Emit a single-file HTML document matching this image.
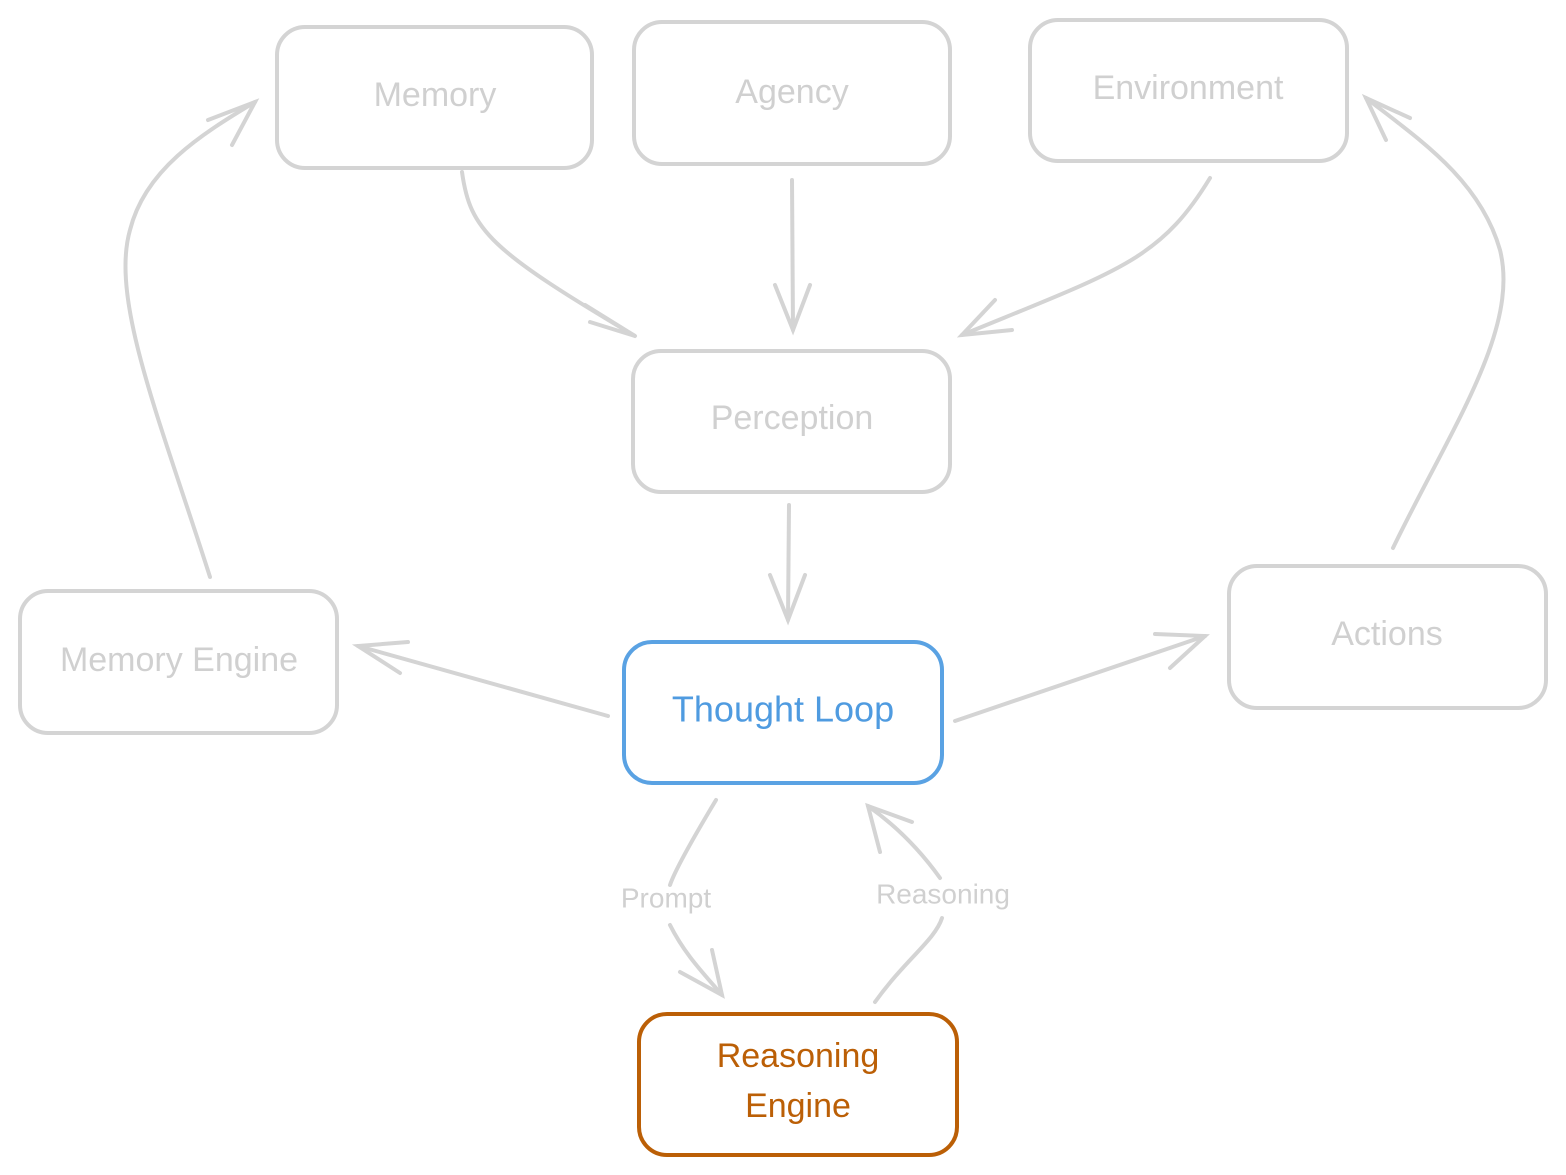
<!DOCTYPE html>
<html><head><meta charset="utf-8"><style>
html,body{margin:0;padding:0;background:#fff;}
svg{display:block;}
text{font-family:"Liberation Sans",sans-serif;text-anchor:middle;dominant-baseline:middle;}
</style></head><body>
<svg width="1566" height="1175" viewBox="0 0 1566 1175" xmlns="http://www.w3.org/2000/svg">
<g fill="none" stroke="#d4d4d4" stroke-width="4" stroke-linecap="round">
<rect x="277" y="27" width="315" height="141" rx="28"/>
<rect x="634" y="22" width="316" height="142" rx="28"/>
<rect x="1030" y="20" width="317" height="141" rx="28"/>
<rect x="633" y="351" width="317" height="141" rx="28"/>
<rect x="20" y="591" width="317" height="142" rx="28"/>
<rect x="1229" y="566" width="317" height="142" rx="28"/>
<!-- arrows -->
<path d="M462 172 C470 230 490 250 635 336"/>
<path d="M585 305 L635 336 L590 322"/>
<path d="M792 180 L793 330"/>
<path d="M775 285 L793 330 L810 285"/>
<path d="M1210 178 C1160 260 1120 270 962 335"/>
<path d="M995 300 L962 335 L1012 330"/>
<path d="M789 505 L788 620"/>
<path d="M770 575 L788 620 L805 575"/>
<path d="M608 716 L358 646"/>
<path d="M400 673 L358 646 L408 642"/>
<path d="M955 721 L1205 636"/>
<path d="M1155 634 L1205 636 L1170 668"/>
<path d="M210 577 C160 420 110 300 130 230 C145 170 200 135 255 102"/>
<path d="M208 120 L255 102 L232 145"/>
<path d="M1393 548 C1450 430 1520 330 1500 250 C1480 180 1420 140 1366 98"/>
<path d="M1410 118 L1366 98 L1386 140"/>
<path d="M716 800 C695 835 675 870 670 885"/>
<path d="M670 925 C685 955 705 975 722 995"/>
<path d="M680 972 L722 995 L712 950"/>
<path d="M875 1002 C905 960 935 940 942 918"/>
<path d="M940 878 C920 850 895 825 868 806"/>
<path d="M880 852 L868 806 L912 822"/>
</g>
<rect x="624" y="642" width="318" height="141" rx="28" fill="none" stroke="#5aa2e3" stroke-width="4"/>
<rect x="639" y="1014" width="318" height="141" rx="28" fill="none" stroke="#bb5f06" stroke-width="4"/>
<g fill="#d0d0d0" font-size="34">
<text x="435" y="97">Memory</text>
<text x="792" y="94">Agency</text>
<text x="1188" y="90">Environment</text>
<text x="792" y="420">Perception</text>
<text x="179" y="662">Memory Engine</text>
<text x="1387" y="636">Actions</text>
<text x="666" y="900" font-size="28">Prompt</text>
<text x="943" y="896" font-size="28">Reasoning</text>
</g>
<text x="783" y="712" font-size="36" fill="#4f9be0">Thought Loop</text>
<text x="798" y="1058" font-size="34" fill="#bb5f06">Reasoning</text>
<text x="798" y="1108" font-size="34" fill="#bb5f06">Engine</text>
</svg>
</body></html>
